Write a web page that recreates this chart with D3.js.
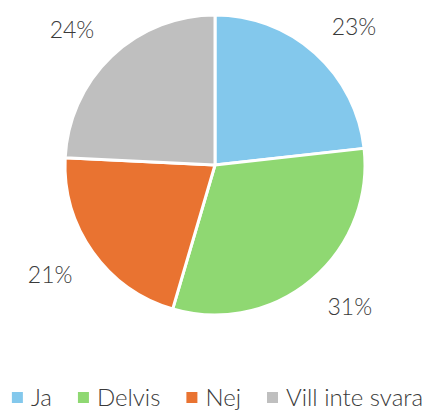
<!DOCTYPE html>
<html>
<head>
<meta charset="utf-8">
<script src="https://cdn.jsdelivr.net/npm/d3@7"></script>
<style>
  body { margin: 0; background: #fff; }
  svg { display: block; font-family: Lato, "Noto Sans", sans-serif; }
</style>
</head>
<body>
<div id="chart"></div>
<script>
const categories = ["Ja", "Delvis", "Nej", "Vill inte svara"];
const values = [23, 31, 21, 24];
const labels = ["23%", "31%", "21%", "24%"];
const colors = ["#83C8EC", "#8FD872", "#E97331", "#BFBFBF"];

const width = 433, height = 414;
const cx = 215, cy = 165, radius = 150;

const svg = d3.select("#chart")
  .append("svg")
  .attr("width", width)
  .attr("height", height);

const pie = d3.pie().sort(null).value(d => d.value);
const arcs = pie(categories.map((c, i) => ({ name: c, value: values[i], label: labels[i] })));

const arc = d3.arc().innerRadius(0).outerRadius(radius);

const g = svg.append("g")
  .attr("transform", "translate(" + cx + "," + cy + ")");

// slices
g.selectAll("path")
  .data(arcs)
  .enter()
  .append("path")
  .attr("d", arc)
  .attr("fill", (d, i) => colors[i])
  .attr("stroke", "#fff")
  .attr("stroke-width", 3)
  .attr("stroke-linejoin", "round");

// percentage labels, placed just outside the slice (nearest corner of the text box on the mid-angle)
const labelR = 175;
g.selectAll("text.lbl")
  .data(arcs)
  .enter()
  .append("text")
  .attr("class", "lbl")
  .attr("text-anchor", "middle")
  .attr("dy", "0.35em")
  .style("font-size", "23px")
  .style("font-weight", 300)
  .style("fill", "#3a3a3a")
  .text(d => d.data.label)
  .attr("transform", function (d) {
    const a = (d.startAngle + d.endAngle) / 2;
    const s = Math.sin(a), c = -Math.cos(a);
    const b = this.getBBox();
    const x = labelR * s + Math.sign(s) * b.width / 2;
    const y = labelR * c + Math.sign(c) * 8;
    return "translate(" + x + "," + y + ")";
  });

// legend
const legend = svg.append("g").attr("transform", "translate(0,398)");
const items = legend.selectAll("g")
  .data(categories)
  .enter()
  .append("g");

items.append("rect")
  .attr("x", 0)
  .attr("y", -6)
  .attr("width", 11)
  .attr("height", 11)
  .attr("fill", (d, i) => colors[i]);

items.append("text")
  .attr("x", 19)
  .attr("dy", "0.35em")
  .style("font-size", "24px")
  .style("font-weight", 300)
  .style("fill", "#3a3a3a")
  .text(d => d);

// lay out the legend entries in a centred row
let x = 0;
const gap = 26;
const offsets = [];
items.each(function () {
  offsets.push(x);
  x += this.getBBox().width + gap;
});
const total = x - gap;
const start = (width - total) / 2 + 1;
items.attr("transform", (d, i) => "translate(" + (start + offsets[i]) + ",0)");
</script>
</body>
</html>
